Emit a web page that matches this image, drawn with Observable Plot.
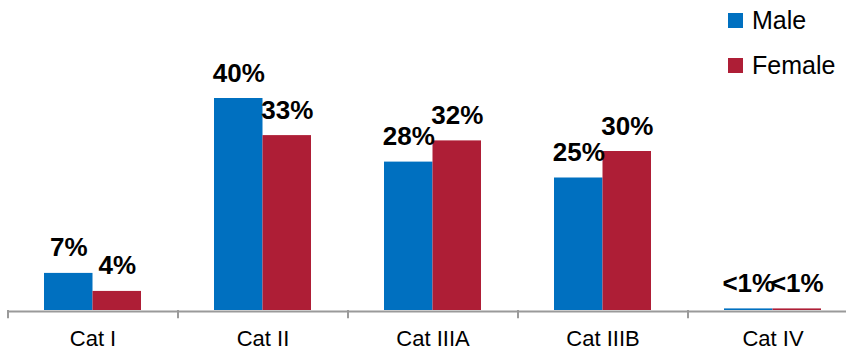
<!DOCTYPE html>
<html>
<head>
<meta charset="utf-8">
<script src="https://cdn.jsdelivr.net/npm/d3@7"></script>
<script src="https://cdn.jsdelivr.net/npm/@observablehq/plot@0.6"></script>
<style>
  html, body { margin: 0; padding: 0; background: #fff; }
  body { font-family: "Liberation Sans", Arial, sans-serif; }
  #wrap { position: relative; width: 846px; height: 351px; overflow: hidden; }
  #legend { position: absolute; left: 728px; top: 8px; font-size: 25px; color: #000; }
  .item { display: flex; align-items: center; height: 25px; margin-bottom: 20px; }
  .sw { width: 15px; height: 15px; margin-right: 9px; }
</style>
</head>
<body>
<div id="wrap"><div id="legend"></div></div>
<script>
const categories = ["Cat I", "Cat II", "Cat IIIA", "Cat IIIB", "Cat IV"];
const seriesNames = ["Male", "Female"];
const seriesColors = ["#0070C0", "#AE1E36"];
const maleValues = [7, 40, 28, 25, 0.3];
const femaleValues = [3.6, 33, 32, 30, 0.3];
const maleLabels = ["7%", "40%", "28%", "25%", "<1%"];
const femaleLabels = ["4%", "33%", "32%", "30%", "<1%"];

const male = categories.map((c, i) => ({cat: c, value: maleValues[i], label: maleLabels[i]}));
const female = categories.map((c, i) => ({cat: c, value: femaleValues[i], label: femaleLabels[i]}));

const half = 48.5;
const labelFont = {fontSize: 26, fontWeight: "bold", fill: "#000", textAnchor: "middle", lineAnchor: "bottom"};

const chart = Plot.plot({
  width: 846,
  height: 351,
  marginLeft: 8,
  marginRight: 0,
  marginTop: 0,
  marginBottom: 41,
  style: {fontFamily: "'Liberation Sans', Arial, sans-serif", background: "transparent", overflow: "visible"},
  x: {domain: categories, range: [8, 858], paddingInner: 0.4294, paddingOuter: 0.2147, axis: null},
  y: {domain: [0, 40], range: [310, 98], axis: null},
  marks: [
    Plot.barY(male, {x: "cat", y: "value", fill: seriesColors[0], insetRight: half}),
    Plot.barY(female, {x: "cat", y: "value", fill: seriesColors[1], insetLeft: half}),
    Plot.ruleY([0], {stroke: "#9a9a9a", strokeWidth: 2, dy: 1}),
    Plot.ruleX(categories, {x: d => d, y1: 0, y2: -1.55, stroke: "#9a9a9a", strokeWidth: 2, dx: -85}),
    Plot.axisX({domain: categories, tickSize: 0, tickPadding: 20, fontSize: 22, fill: "#000", label: null}),
    Plot.text(male, {x: "cat", y: "value", text: "label", dx: -half / 2, dy: -17, ...labelFont}),
    Plot.text(female, {x: "cat", y: "value", text: "label", dx: half / 2, dy: -17, ...labelFont})
  ]
});
document.getElementById("wrap").prepend(chart);

const legend = document.getElementById("legend");
seriesNames.forEach((name, i) => {
  const item = document.createElement("div");
  item.className = "item";
  const sw = document.createElement("div");
  sw.className = "sw";
  sw.style.background = seriesColors[i];
  const t = document.createElement("span");
  t.textContent = name;
  item.appendChild(sw);
  item.appendChild(t);
  legend.appendChild(item);
});
</script>
</body>
</html>
